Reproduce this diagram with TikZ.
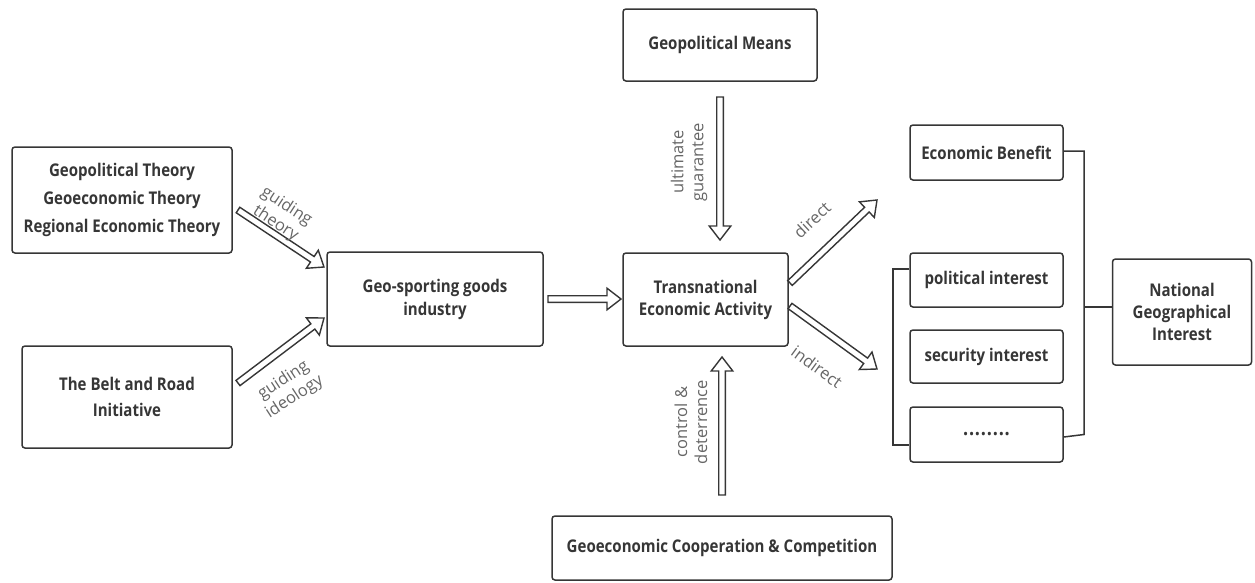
\documentclass[tikz,border=0pt]{standalone}
\usepackage{fontspec}
\setmainfont{Open Sans}[FakeStretch=0.86]
\newfontfamily\notefont{Open Sans}
\usetikzlibrary{calc}
\definecolor{ink}{HTML}{363636}
\definecolor{note}{HTML}{666666}
\tikzset{
  box/.style={draw=ink, line width=1.5pt, rounded corners=3pt, text=ink,
    font=\bfseries\fontsize{17.5}{22}\selectfont, align=center, inner sep=0pt},
  link/.style={draw=ink, line width=1.5pt, line join=miter},
  harrow/.style={draw=ink, line width=1.4pt, fill=white, line join=miter},
  tag/.style={text=note, font=\notefont\fontsize{16.5}{20}\selectfont, align=center, inner sep=0pt},
}
% hollow block arrow from #1 to #2 (tip at #2)
\newcommand\hollowarrow[2]{%
  \coordinate (habase) at ($(#2)!14pt!(#1)$);
  \draw[harrow] ($(#1)!3.3pt!90:(#2)$) -- ($(habase)!3.3pt!90:(#2)$)
    -- ($(habase)!10.8pt!90:(#2)$) -- (#2) -- ($(habase)!10.8pt!-90:(#2)$)
    -- ($(habase)!3.3pt!-90:(#2)$) -- ($(#1)!3.3pt!-90:(#2)$) -- cycle;}
\begin{document}
\begin{tikzpicture}[x=1pt,y=-1pt]
\useasboundingbox (0,0) rectangle (1255,582);

% boxes
\node[box, minimum width=220, minimum height=106, font=\bfseries\fontsize{17.5}{28}\selectfont] (theory) at (122,200)
  {Geopolitical Theory\\Geoeconomic Theory\\Regional Economic Theory};
\node[box, minimum width=210, minimum height=102, font=\bfseries\fontsize{17.5}{26}\selectfont] (belt) at (127,397)
  {The Belt and Road\\Initiative};
\node[box, minimum width=216, minimum height=94, font=\bfseries\fontsize{17.5}{23}\selectfont] (geo) at (435,299)
  {Geo-sporting goods\\industry};
\node[box, minimum width=165, minimum height=93] (trans) at (705.5,299.5)
  {Transnational\\Economic Activity};
\node[box, minimum width=194, minimum height=72] (means) at (720,45)
  {Geopolitical Means};
\node[box, minimum width=340, minimum height=64] (coop) at (722,548)
  {Geoeconomic Cooperation \& Competition};
\node[box, minimum width=153, minimum height=55] (econ) at (986.5,152.5)
  {Economic Benefit};
\node[box, minimum width=153, minimum height=54] (pol) at (986.5,280)
  {political interest};
\node[box, minimum width=153, minimum height=53] (sec) at (986.5,356.5)
  {security interest};
\node[box, minimum width=153, minimum height=55, font=\bfseries\fontsize{21}{22}\selectfont] (more) at (986.5,434.5)
  {.\kern0.8pt.\kern0.8pt.\kern0.8pt.\kern0.8pt.\kern0.8pt.\kern0.8pt.\kern0.8pt.};
\node[box, minimum width=139, minimum height=106] (nat) at (1182,312)
  {National\\Geographical\\Interest};

% bracket connectors
\coordinate (rb) at (1084,0);
\coordinate (lb) at (893,0);
\draw[link] (econ.east |- 0,151) -| (rb |- more.east) -- (more.east |- 0,437);
\draw[link] (rb |- 0,307) -- (nat.west |- 0,307);
\draw[link] (pol.west |- 0,269) -| (lb |- 0,445) -- (more.west |- 0,445);

% block arrows
\coordinate (a1s) at (238,210);  \coordinate (a1e) at (324,267);
\coordinate (a2s) at (238,383);  \coordinate (a2e) at (324,318);
\coordinate (a3s) at (548,299);  \coordinate (a3e) at (621,299);
\coordinate (a4s) at (720,97);   \coordinate (a4e) at (720,240);
\coordinate (a5s) at (722,495);  \coordinate (a5e) at (722,357);
\coordinate (a6s) at (790,283);  \coordinate (a6e) at (877,200);
\coordinate (a7s) at (790,306);  \coordinate (a7e) at (877,369);
\hollowarrow{a1s}{a1e}
\hollowarrow{a2s}{a2e}
\hollowarrow{a3s}{a3e}
\hollowarrow{a4s}{a4e}
\hollowarrow{a5s}{a5e}
\hollowarrow{a6s}{a6e}
\hollowarrow{a7s}{a7e}

% arrow labels
\node[tag, rotate=-33] (l1) at (281,215) {guiding\\theory};
\node[tag, rotate=33] (l2) at (289,389) {guiding\\ideology};
\node[tag, rotate=90] (l3) at (689,162) {ultimate\\guarantee};
\node[tag, rotate=90] (l4) at (691,422) {control \&\\deterrence};
\node[tag, rotate=43] (l5) at (812,220) {direct};
\node[tag, rotate=-36] (l6) at (817,367) {indirect};
\end{tikzpicture}
\end{document}
